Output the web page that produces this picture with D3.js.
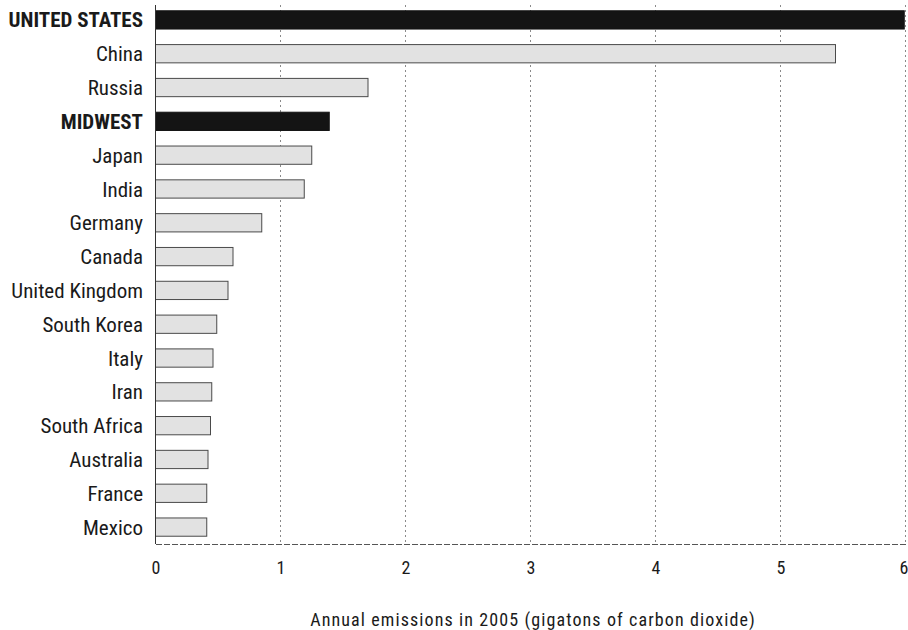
<!DOCTYPE html>
<html>
<head>
<meta charset="utf-8">
<script src="https://cdn.jsdelivr.net/npm/d3@7"></script>
<style>
  html, body { margin: 0; padding: 0; background: #fff; }
  svg { display: block; }
  text { font-family: "Liberation Sans Narrow", "Arial Narrow", "Roboto Condensed", sans-serif; fill: #1a1a1a; }
</style>
</head>
<body>
<svg id="chart" width="908" height="630"></svg>
<script>
const categories = ["UNITED STATES", "China", "Russia", "MIDWEST", "Japan", "India", "Germany", "Canada",
  "United Kingdom", "South Korea", "Italy", "Iran", "South Africa", "Australia", "France", "Mexico"];
const emissions = [5.99, 5.44, 1.70, 1.39, 1.25, 1.19, 0.85, 0.62, 0.58, 0.49, 0.46, 0.45, 0.44, 0.42, 0.41, 0.41];
const highlighted = ["UNITED STATES", "MIDWEST"];
const xTicks = [0, 1, 2, 3, 4, 5, 6];
const xTitle = "Annual emissions in 2005 (gigatons of carbon dioxide)";

(function () {
const FONT = "'Liberation Sans Narrow', 'Arial Narrow', 'Roboto Condensed', sans-serif";
const svg = d3.select("#chart");
const mLeft = 155.5, mRight = 905.5, mTop = 3, mBottom = 544;

const x = d3.scaleLinear().domain([0, 6]).range([mLeft, mRight]);
const y = d3.scaleBand().domain(categories).range([mTop, mBottom]).paddingInner(0.46).paddingOuter(0.23);

// gridlines
svg.append("g").selectAll("line").data(xTicks.slice(1)).join("line")
  .attr("x1", d => x(d)).attr("x2", d => x(d))
  .attr("y1", mTop + 2).attr("y2", mBottom)
  .attr("stroke", "#8a8a8a").attr("stroke-width", 1)
  .attr("stroke-dasharray", "2,3");

// bars
const data = categories.map((c, i) => ({ c, v: emissions[i], hi: highlighted.includes(c) }));
svg.append("g").selectAll("rect").data(data).join("rect")
  .attr("x", x(0))
  .attr("y", d => y(d.c))
  .attr("width", d => x(d.v) - x(0))
  .attr("height", y.bandwidth())
  .attr("fill", d => d.hi ? "#141414" : "#e2e2e2")
  .attr("stroke", d => d.hi ? "#141414" : "#4a4a4a")
  .attr("stroke-width", 1);

// category labels
svg.append("g").selectAll("text").data(data).join("text")
  .attr("x", 143)
  .attr("y", d => y(d.c) + y.bandwidth() / 2)
  .attr("dy", "0.36em")
  .attr("text-anchor", "end")
  .attr("font-size", 21)
  .attr("font-weight", d => d.hi ? "bold" : "normal")
  .style("font-family", FONT)
  .text(d => d.c);

// left axis line
svg.append("line").attr("x1", mLeft).attr("x2", mLeft).attr("y1", mTop + 2).attr("y2", mBottom)
  .attr("stroke", "#333").attr("stroke-width", 1);

// bottom axis
const xAxis = d3.axisBottom(x).tickValues(xTicks).tickSize(0).tickPadding(17).tickFormat(d3.format("d"));
const gx = svg.append("g").attr("transform", `translate(0,${mBottom})`).call(xAxis);
gx.select(".domain").attr("stroke", "#555").attr("stroke-width", 1).attr("stroke-dasharray", "6,2");
gx.selectAll("text").attr("font-size", 18).attr("fill", "#1a1a1a")
  .style("font-family", FONT);
gx.selectAll(".tick").filter(d => d === 6).select("text")
  .attr("text-anchor", "end").attr("x", 908 - x(6));

// axis title
svg.append("text").attr("x", 533).attr("y", 626)
  .attr("text-anchor", "middle").attr("font-size", 18)
  .style("font-family", FONT)
  .style("letter-spacing", "1.1px")
  .text(xTitle);
})();
</script>
</body>
</html>
